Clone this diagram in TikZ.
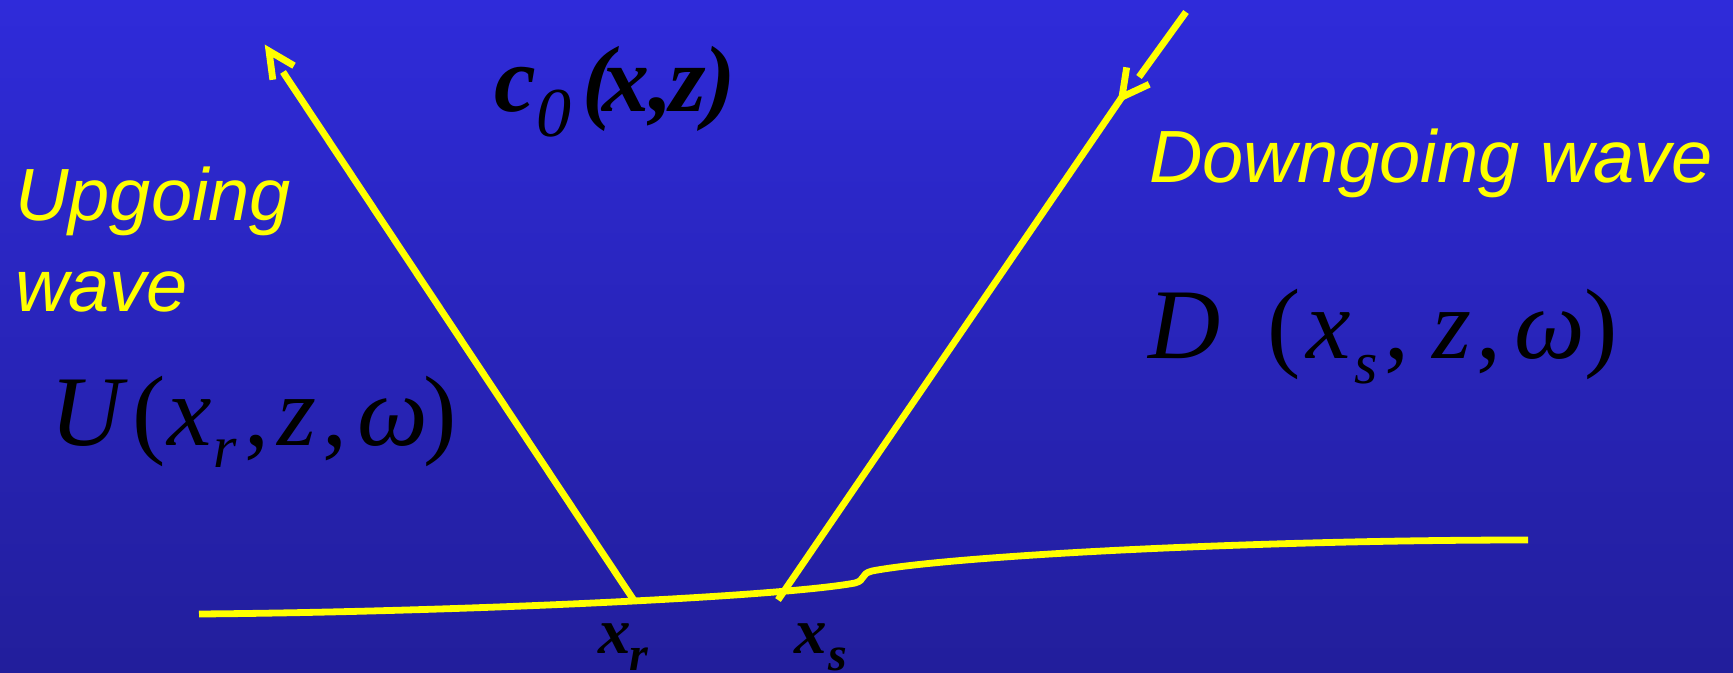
\documentclass[tikz,border=0pt]{standalone}
\usepackage{fontspec}
\setmainfont{Liberation Serif}
\newfontfamily\sansf{Liberation Sans}
\usetikzlibrary{calc}
\newdimen\pxu \pxu=0.5pt
\newcommand\gp[2]{\makebox[0pt][l]{\hspace*{#1\pxu}#2}}
\newcommand\fs[1]{\fontsize{#1\pxu}{#1\pxu}\selectfont}
\definecolor{bgtop}{RGB}{47,43,218}
\definecolor{bgbot}{RGB}{34,30,155}
\definecolor{wy}{RGB}{255,255,0}
\tikzset{
  wave/.style={draw=wy, line width=3.4pt},
  lbl/.style={text=wy, font=\sansf\itshape\fs{74}, inner sep=0, anchor=base west},
  frm/.style={text=black, inner sep=0, anchor=base west},
}
\begin{document}
\begin{tikzpicture}[x=0.5pt,y=-0.5pt]
\useasboundingbox (0,0) rectangle (1733,673);
\shade[top color=bgtop, bottom color=bgbot] (0,0) rectangle (1733,673);
\clip (0,0) rectangle (1733,673);
% coordinates
\coordinate (upS) at (635,602);
\coordinate (upE) at (283,72);
\coordinate (upT) at (269,51);
\coordinate (dnS) at (1186,12);
\coordinate (dnE) at (1139,77);
\coordinate (dnT) at (1122,97);
\coordinate (dnB) at (778,600);
% reflector
\draw[wave] (199,614) .. controls (450,612) and (780,597) .. (855,583)
  .. controls (866,580) and (860,574) .. (872,571)
  .. controls (950,556) and (1250,540) .. (1528,540);
% upgoing
\draw[wave] (upS) -- (upE);
\draw[wave] ($(upT)!14.5pt!26:(upS)$) -- (upT) -- ($(upT)!14.5pt!-26:(upS)$);
% downgoing
\draw[wave] (dnS) -- (dnE);
\draw[wave] ($(dnT)!15pt!28:(dnS)$) -- (dnT) -- ($(dnT)!15pt!-28:(dnS)$);
\draw[wave] (dnT) -- (dnB);
% labels
\node[lbl] (up1) at (15,221) {Upgoing};
\node[lbl] (up2) at (15,312) {wave};
\node[lbl] (dn) at (1149,183) {Downgoing wave};
% c0(x,z)
\node[frm, font=\bfseries\itshape\fs{94}] (c0) at (493,112)
 {\gp{0}{c}\gp{42}{\raisebox{-25\pxu}{\mdseries\fs{70}0}}\gp{88}{(}\gp{108}{x}\gp{155}{,}\gp{175}{z}\gp{210}{)}};
% U
\node[frm, font=\itshape\fs{100}] (U) at (58,445)
 {\gp{-9}{U}\gp{73}{\upshape(}\gp{108}{x}\gp{154}{\raisebox{-22\pxu}{\fs{60}r}}\gp{185}{\upshape,}\gp{218}{z}\gp{263}{\upshape,}\gp{298}{ω}\gp{364}{\upshape)}};
% D
\node[frm, font=\itshape\fs{100}] (D) at (1145,358)
 {\gp{2}{D}\gp{121}{\upshape(}\gp{160}{x}\gp{208}{\raisebox{-25\pxu}{\fs{60}s}}\gp{238}{\upshape,}\gp{286}{z}\gp{330}{\upshape,}\gp{368}{ω}\gp{438}{\upshape)}};
% x_r, x_s
\node[frm, font=\bfseries\itshape\fs{65}] (xr) at (597,653)
 {\gp{0}{x}\gp{31}{\raisebox{-17\pxu}{\fs{48}r}}};
\node[frm, font=\bfseries\itshape\fs{65}] (xs) at (793,653)
 {\gp{0}{x}\gp{34}{\raisebox{-17\pxu}{\fs{48}s}}};
\end{tikzpicture}
\end{document}
